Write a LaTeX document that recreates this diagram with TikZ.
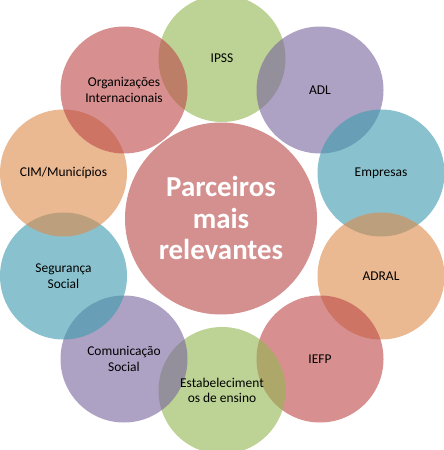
\documentclass[tikz,border=0pt]{standalone}
\usepackage{fontspec}
\setmainfont{Carlito}
\usepackage{tikz}

\begin{document}
\begin{tikzpicture}[x=1bp, y=-1bp,
  bubble/.style = {circle, minimum size=127bp, inner sep=0, fill opacity=0.62},
  hub/.style = {circle, minimum size=192bp, inner sep=0, fill=hubred, fill opacity=0.62},
  label/.style = {align=center, font=\fontsize{13.5}{15.5}\selectfont, text=black},
  red/.style = {bubble, fill=offred},
  green/.style = {bubble, fill=offgreen},
  purple/.style = {bubble, fill=offpurple},
  aqua/.style = {bubble, fill=offaqua},
  orange/.style = {bubble, fill=offorange}]
	\definecolor{offred}{HTML}{BE4B4B}
	\definecolor{hubred}{HTML}{BA4B4B}
	\definecolor{offgreen}{HTML}{95B654}
	\definecolor{offpurple}{HTML}{7A689F}
	\definecolor{offaqua}{HTML}{409DB0}
	\definecolor{offorange}{HTML}{DD8C4E}
	\useasboundingbox (0,0) rectangle (444,450);
	% the ring
	\node[green] (ipss) at (222, 58.5){};
	\node[purple] (adl) at (320, 90){};
	\node[aqua] (emp) at (381, 173){};
	\node[orange] (adral) at (381, 276){};
	\node[red] (iefp) at (320, 359){};
	\node[green] (ens) at (222, 390.5){};
	\node[purple] (com) at (124, 359){};
	\node[aqua] (seg) at (63.5, 276){};
	\node[orange] (cim) at (63.5, 173){};
	\node[red] (org) at (124, 90){};
	\node[hub] (hub) at (221, 218.5){};
	% texts
	\node[label] (tipss) at (ipss){IPSS};
	\node[label] (tadl) at (adl){ADL};
	\node[label] (temp) at (emp){Empresas};
	\node[label] (tadral) at (adral){ADRAL};
	\node[label] (tiefp) at (iefp){IEFP};
	\node[label] (tens) at (ens){Estabeleciment\\os de ensino};
	\node[label] (tcom) at (com){Comunicação\\Social};
	\node[label] (tseg) at (seg){Segurança\\Social};
	\node[label] (tcim) at (cim){CIM/Municípios};
	\node[label] (torg) at (org){Organizações\\Internacionais};
	\node[align=center, text=white, font=\bfseries\fontsize{29}{32}\selectfont] (thub) at (221, 218){Parceiros\\mais\\relevantes};
\end{tikzpicture}
\end{document}
